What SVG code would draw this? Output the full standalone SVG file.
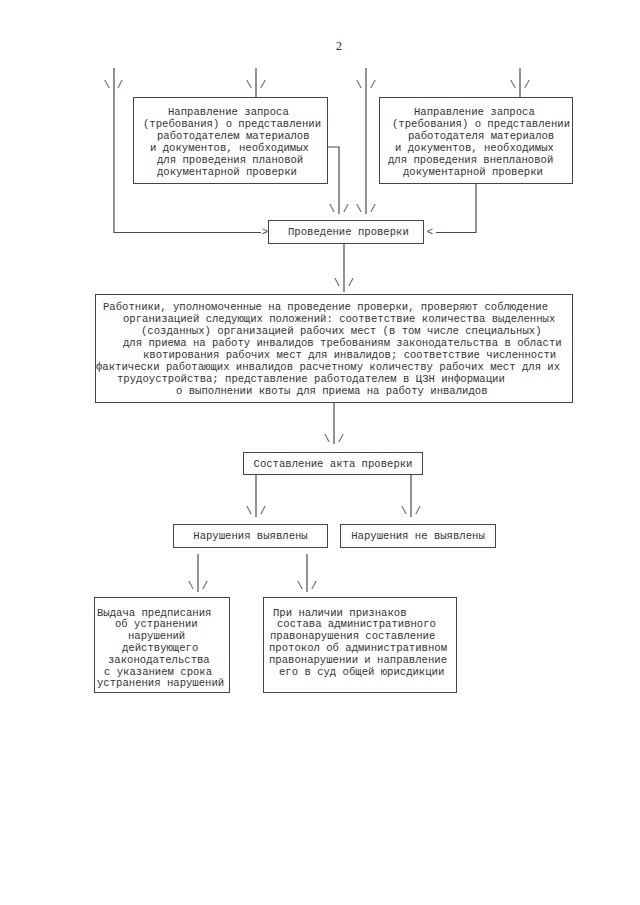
<svg xmlns="http://www.w3.org/2000/svg" width="640" height="905" viewBox="0 0 640 905">
<style>
.bg{fill:#fff}
.box{fill:#fff;stroke:#444;stroke-width:1}
.ln{fill:none;stroke:#4a4a4a;stroke-width:1.2}
.t{font-family:"Liberation Mono","DejaVu Sans Mono",monospace;font-size:10.6px;fill:#333}
.c{text-anchor:middle}
.ah{font-family:"Liberation Mono","DejaVu Sans Mono",monospace;font-size:10.6px;fill:#444;text-anchor:middle}
.pg{font-family:"Liberation Serif","Times New Roman",serif;font-size:12px;fill:#222;text-anchor:middle}
</style>
<rect class="bg" x="0" y="0" width="640" height="905"/>
<text class="pg" x="339" y="50">2</text>

<g id="connectors">
  <polyline class="ln" points="114,68 114,232.5 261,232.5"/>
  <text class="ah" x="107" y="88">\</text><text class="ah" x="120" y="88">/</text>
  <line class="ln" x1="256" y1="68" x2="256" y2="97"/>
  <text class="ah" x="249" y="88">\</text><text class="ah" x="263" y="88">/</text>
  <line class="ln" x1="366" y1="68" x2="366" y2="214"/>
  <text class="ah" x="359" y="88">\</text><text class="ah" x="373" y="88">/</text>
  <line class="ln" x1="520" y1="68" x2="520" y2="97"/>
  <text class="ah" x="513" y="88">\</text><text class="ah" x="527" y="88">/</text>

  <polyline class="ln" points="327,147 339,147 339,214"/>
  <text class="ah" x="332" y="212">\</text><text class="ah" x="346" y="212">/</text>
  <text class="ah" x="359" y="212">\</text><text class="ah" x="373" y="212">/</text>

  <polyline class="ln" points="476,184 476,232.5 436,232.5"/>
  <text class="ah" x="265" y="235">&gt;</text>
  <text class="ah" x="430" y="235">&lt;</text>

  <line class="ln" x1="344" y1="243" x2="344" y2="292"/>
  <text class="ah" x="337" y="286">\</text><text class="ah" x="351" y="286">/</text>

  <line class="ln" x1="334" y1="403" x2="334" y2="444"/>
  <text class="ah" x="327" y="442">\</text><text class="ah" x="341" y="442">/</text>

  <line class="ln" x1="256" y1="474" x2="256" y2="517"/>
  <text class="ah" x="249" y="514">\</text><text class="ah" x="263" y="514">/</text>
  <line class="ln" x1="411" y1="474" x2="411" y2="517"/>
  <text class="ah" x="404" y="514">\</text><text class="ah" x="418" y="514">/</text>

  <line class="ln" x1="198" y1="554" x2="198" y2="592"/>
  <text class="ah" x="191" y="589">\</text><text class="ah" x="205" y="589">/</text>
  <line class="ln" x1="307" y1="554" x2="307" y2="592"/>
  <text class="ah" x="300" y="589">\</text><text class="ah" x="314" y="589">/</text>
</g>

<g id="n_plan">
  <rect class="box" x="133.5" y="97.5" width="194" height="86"/>
  <text class="t" x="168" y="114.5">Направление запроса</text>
  <text class="t" x="143" y="126.5">(требования) о представлении</text>
  <text class="t" x="157" y="138.5">работодателем материалов</text>
  <text class="t" x="150" y="150.5">и документов, необходимых</text>
  <text class="t" x="157" y="162.5">для проведения плановой</text>
  <text class="t" x="157" y="174.5">документарной проверки</text>
</g>

<g id="n_vneplan">
  <rect class="box" x="379.5" y="97.5" width="193" height="86"/>
  <text class="t" x="414" y="114.5">Направление запроса</text>
  <text class="t" x="392" y="126.5">(требования) о представлении</text>
  <text class="t" x="408" y="138.5">работодателя материалов</text>
  <text class="t" x="395" y="150.5">и документов, необходимых</text>
  <text class="t" x="388" y="162.5">для проведения внеплановой</text>
  <text class="t" x="403" y="174.5">документарной проверки</text>
</g>

<g id="n_provedenie">
  <rect class="box" x="268.5" y="220.5" width="155" height="23"/>
  <text class="t" x="288" y="235">Проведение проверки</text>
</g>

<g id="n_rabotniki">
  <rect class="box" x="95.5" y="294.5" width="477" height="108"/>
  <text class="t" x="103" y="310">Работники, уполномоченные на проведение проверки, проверяют соблюдение</text>
  <text class="t" x="123" y="322">организацией следующих положений: соответствие количества выделенных</text>
  <text class="t" x="141" y="334">(созданных) организацией рабочих мест (в том числе специальных)</text>
  <text class="t" x="123" y="346">для приема на работу инвалидов требованиям законодательства в области</text>
  <text class="t" x="143" y="358">квотирования рабочих мест для инвалидов; соответствие численности</text>
  <text class="t" x="96" y="370">фактически работающих инвалидов расчетному количеству рабочих мест для их</text>
  <text class="t" x="117" y="382">трудоустройства; представление работодателем в ЦЗН информации</text>
  <text class="t" x="176" y="394">о выполнении квоты для приема на работу инвалидов</text>
</g>

<g id="n_akt">
  <rect class="box" x="243.5" y="452.5" width="179" height="22"/>
  <text class="t c" x="333" y="467">Составление акта проверки</text>
</g>

<g id="n_vyyavleny">
  <rect class="box" x="173.5" y="524.5" width="154" height="23"/>
  <text class="t c" x="250.5" y="539">Нарушения выявлены</text>
</g>

<g id="n_ne_vyyavleny">
  <rect class="box" x="340.5" y="524.5" width="155" height="23"/>
  <text class="t c" x="418" y="539">Нарушения не выявлены</text>
</g>

<g id="n_predpisanie">
  <rect class="box" x="94.5" y="597.5" width="135" height="95"/>
  <text class="t" x="97" y="615.5">Выдача предписания</text>
  <text class="t" x="115" y="627.3">об устранении</text>
  <text class="t" x="128" y="639.1">нарушений</text>
  <text class="t" x="122" y="650.9">действующего</text>
  <text class="t" x="108" y="662.7">законодательства</text>
  <text class="t" x="104" y="674.5">с указанием срока</text>
  <text class="t" x="97" y="686.3">устранения нарушений</text>
</g>

<g id="n_protokol">
  <rect class="box" x="263.5" y="597.5" width="193" height="95"/>
  <text class="t" x="273" y="615.5">При наличии признаков</text>
  <text class="t" x="277" y="627.3">состава административного</text>
  <text class="t" x="270" y="639.1">правонарушения составление</text>
  <text class="t" x="269" y="650.9">протокол об административном</text>
  <text class="t" x="269" y="662.7">правонарушении и направление</text>
  <text class="t" x="279" y="674.5">его в суд общей юрисдикции</text>
</g>
</svg>
